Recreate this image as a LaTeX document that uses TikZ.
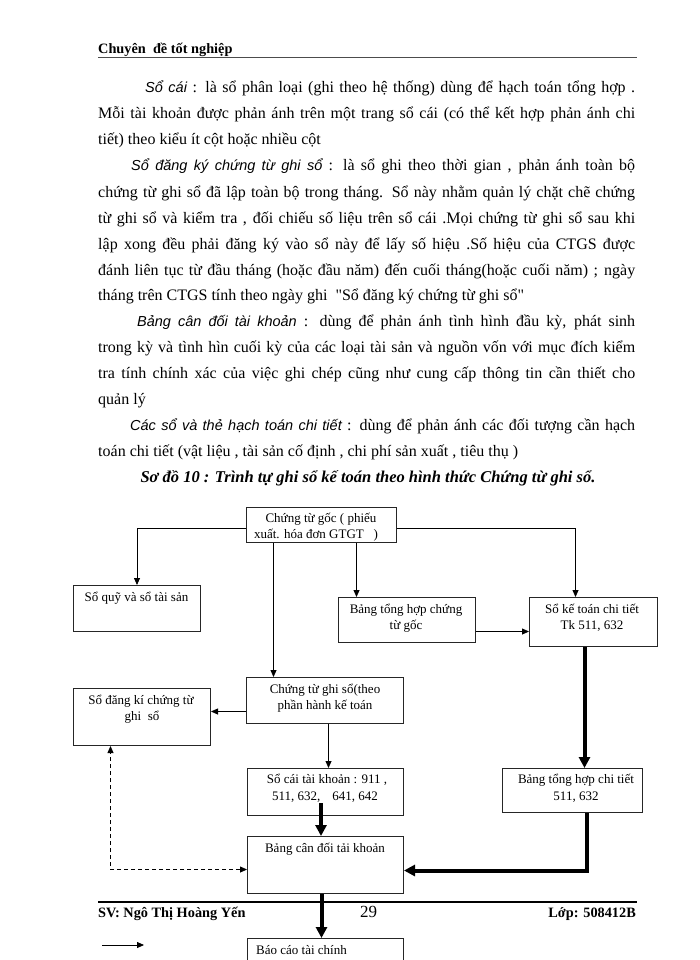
\documentclass[tikz,border=0pt]{standalone}
\usepackage{fontspec}
\setmainfont{Liberation Serif}[Ligatures=TeXOff]
\newfontfamily\arialf{Liberation Sans}[Ligatures=TeXOff]
\usetikzlibrary{arrows.meta}
\newcommand{\lbl}[1]{{\arialf\itshape\fontsize{14.5}{17}\selectfont #1}}
\begin{document}
\begin{tikzpicture}[x=1pt,y=-1pt,
  body/.style={anchor=base west, inner sep=0pt, font=\fontsize{16}{19}\selectfont},
  boxnode/.style={draw=black!85, line width=1pt, anchor=north west, inner sep=0pt},
  btxt/.style={anchor=base, inner sep=0pt, font=\fontsize{13}{16}\selectfont},
  thinarr/.style={line width=0.8pt, -{Triangle[width=6pt,length=7pt]}},
  thickarr/.style={line width=4pt, -{Triangle[width=11pt,length=11pt]}},
  dasharr/.style={line width=0.8pt, dash pattern=on 4pt off 3pt, {Triangle[width=6pt,length=7pt]}-{Triangle[width=6pt,length=7pt]}},
  hdr/.style={anchor=base west, inner sep=0pt, font=\bfseries\fontsize{14.3}{17}\selectfont},
  ftr/.style={inner sep=0pt, font=\bfseries\fontsize{14.3}{17}\selectfont}]
\useasboundingbox (0,0) rectangle (700,960);
\fill[white] (0,0) rectangle (700,960);

% header
\node[hdr] (hd) at (98,54) {Chuyên\ \ đề tốt nghiệp};
\draw[line width=1.6pt, black!70] (98,57.5) -- (637,57.5);

% body text
\node[body] (l0) at (145,93) {\makebox[490pt][s]{\lbl{Sổ cái} : là sổ phân loại (ghi theo hệ thống) dùng để hạch toán tổng hợp .}};
\node[body] (l1) at (98,119) {\makebox[537pt][s]{Mỗi tài khoản được phản ánh trên một trang sổ cái (có thể kết hợp phản ánh chi}};
\node[body] (l2) at (98,145) {tiết) theo kiểu ít cột hoặc nhiều cột};
\node[body] (l3) at (131,171) {\makebox[504pt][s]{\lbl{Sổ đăng ký chứng từ ghi sổ} : là sổ ghi theo thời gian , phản ánh toàn bộ}};
\node[body] (l4) at (98,197) {\makebox[537pt][s]{chứng từ ghi sổ đã lập toàn bộ trong tháng. Sổ này nhằm quản lý chặt chẽ chứng}};
\node[body] (l5) at (98,223) {\makebox[537pt][s]{từ ghi sổ và kiểm tra , đối chiếu số liệu trên sổ cái .Mọi chứng từ ghi sổ sau khi}};
\node[body] (l6) at (98,249) {\makebox[537pt][s]{lập xong đều phải đăng ký vào sổ này để lấy số hiệu .Số hiệu của CTGS được}};
\node[body] (l7) at (98,275) {\makebox[537pt][s]{đánh liên tục từ đầu tháng (hoặc đầu năm) đến cuối tháng(hoặc cuối năm) ; ngày}};
\node[body] (l8) at (98,300) {tháng trên CTGS tính theo ngày ghi\ \ "Sổ đăng ký chứng từ ghi sổ"};
\node[body] (l9) at (137,326) {\makebox[498pt][s]{\lbl{Bảng cân đối tài khoản} : dùng để phản ánh tình hình đầu kỳ, phát sinh}};
\node[body] (l10) at (98,352) {\makebox[537pt][s]{trong kỳ và tình hìn cuối kỳ của các loại tài sản và nguồn vốn với mục đích kiểm}};
\node[body] (l11) at (98,378) {\makebox[537pt][s]{tra tính chính xác của việc ghi chép cũng như cung cấp thông tin cần thiết cho}};
\node[body] (l12) at (98,404) {quản lý};
\node[body] (l13) at (130,430) {\makebox[505pt][s]{\lbl{Các sổ và thẻ hạch toán chi tiết} : dùng để phản ánh các đối tượng cần hạch}};
\node[body] (l14) at (98,456) {toán chi tiết (vật liệu , tài sản cố định , chi phí sản xuất , tiêu thụ )};

% title
\node[anchor=base, inner sep=0pt, font=\bfseries\itshape\fontsize{16.5}{19}\selectfont] (title) at (368,482) {Sơ đồ 10 : Trình tự ghi sổ kế toán theo hình thức Chứng từ ghi sổ.};

% boxes
\node[boxnode, minimum width=150pt, minimum height=35pt] (A) at (246,507) {};
\node[boxnode, minimum width=127pt, minimum height=46pt] (B) at (73,585) {};
\node[boxnode, minimum width=137pt, minimum height=45pt] (C) at (338,597) {};
\node[boxnode, minimum width=128pt, minimum height=49pt] (E) at (529,597) {};
\node[boxnode, minimum width=157pt, minimum height=46pt] (D) at (246,677) {};
\node[boxnode, minimum width=137pt, minimum height=57pt] (F) at (73,688) {};
\node[boxnode, minimum width=156pt, minimum height=47pt] (G) at (247,768) {};
\node[boxnode, minimum width=140pt, minimum height=44pt] (I) at (502,768) {};
\node[boxnode, minimum width=156pt, minimum height=57pt] (H) at (247,836) {};
\node[boxnode, minimum width=156pt, minimum height=60pt] (J) at (247,938) {};

% box texts
\node[btxt] (tA1) at (321,522) {Chứng từ gốc ( phiếu};
\node[btxt] (tA2) at (316,538) {xuất. hóa đơn GTGT\ \ \ )};
\node[btxt] (tB) at (136.5,601) {Sổ quỹ và sổ tài sản};
\node[btxt] (tC1) at (406,613) {Bảng tổng hợp chứng};
\node[btxt] (tC2) at (406,629) {từ gốc};
\node[btxt] (tE1) at (592,613) {Sổ kế toán chi tiết};
\node[btxt] (tE2) at (592,629) {Tk 511, 632};
\node[btxt] (tD1) at (325,693) {Chứng từ ghi sổ(theo};
\node[btxt] (tD2) at (325,709) {phần hành kế toán};
\node[btxt] (tF1) at (141,704) {Sổ đăng kí chứng từ};
\node[btxt] (tF2) at (142,720) {ghi\ \ sổ};
\node[btxt] (tG1) at (327,783) {Sổ cái tài khoản : 911 ,};
\node[btxt] (tG2) at (325,800) {511, 632,\hspace{12pt}641, 642};
\node[btxt] (tH) at (325,852) {Bảng cân đối tải khoản};
\node[btxt] (tI1) at (576,783) {Bảng tổng hợp chi tiết};
\node[btxt] (tI2) at (576,800) {511, 632};
\node[btxt, anchor=base west] (tJ) at (256,954) {Báo cáo tài chính};

% connector anchors
\coordinate (aW) at ([yshift=-3.5pt]A.west);
\coordinate (aE) at ([yshift=-3.5pt]A.east);
\coordinate (eN) at ([xshift=-18pt]E.north);
\coordinate (aS1) at ([xshift=-48pt]A.south);
\coordinate (aS2) at ([xshift=35pt]A.south);
\coordinate (cE) at ([yshift=-11.5pt]C.east);
\coordinate (dW) at ([yshift=-11pt]D.west);
\coordinate (dS) at ([xshift=3.5pt]D.south);
\coordinate (gS) at ([xshift=-4.5pt,yshift=13pt]G.south);
\coordinate (eS) at ([xshift=-9pt]E.south);
\coordinate (iS) at ([xshift=14pt]I.south);
\coordinate (hE) at ([yshift=-5.5pt]H.east);
\coordinate (hW) at ([yshift=-4.5pt]H.west);
\coordinate (fS) at ([xshift=-31.5pt]F.south);
\coordinate (hS) at ([xshift=-4pt]H.south);

% connectors
\draw[thinarr] (aW) -| (B.north);
\draw[thinarr] (aE) -| (eN);
\draw[thinarr] (aS1) -- (aS1 |- D.north);
\draw[thinarr] (aS2) -- (aS2 |- C.north);
\draw[thinarr] (cE) -- (cE -| E.west);
\draw[thinarr] (dW) -- (dW -| F.east);
\draw[thinarr] (dS) -- (dS |- G.north);
\draw[thickarr] (gS) -- (gS |- H.north);
\draw[thickarr] (eS) -- (eS |- I.north);
\draw[thickarr] (iS) |- (hE);
\draw[dasharr] (hW) -| (fS);

% footer
\draw[line width=1.6pt, black] (98,902) -- (637,902);
\node[ftr, anchor=base west] (sv) at (98,917) {SV: Ngô Thị Hoàng Yến};
\node[anchor=base, inner sep=0pt, font=\fontsize{17}{20}\selectfont] (pg) at (368.5,917) {29};
\node[ftr, anchor=base east] (lop) at (636,917) {Lớp: 508412B};

\draw[thickarr] (hS) -- (hS |- J.north);

% legend arrow fragment
\coordinate (lg1) at (102,945);
\coordinate (lg2) at (144,945);
\draw[thinarr] (lg1) -- (lg2);
\end{tikzpicture}
\end{document}
